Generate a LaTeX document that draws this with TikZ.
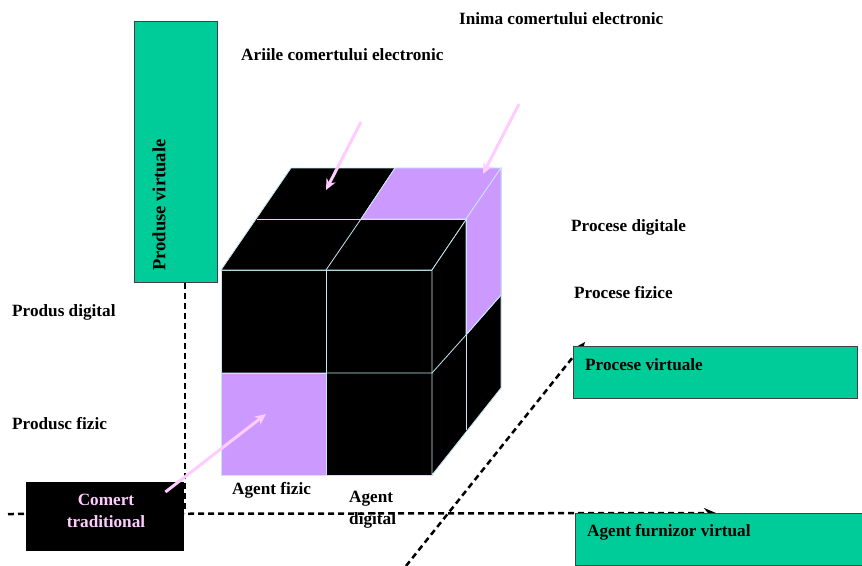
\documentclass[tikz,border=0pt]{standalone}
\usepackage{fontspec}
\setmainfont{Liberation Serif}
\usetikzlibrary{arrows.meta}
\definecolor{vgreen}{HTML}{00CC99}
\definecolor{cubelila}{HTML}{CC99FF}
\definecolor{edgeblue}{HTML}{C8E6F5}
\definecolor{pinkc}{HTML}{FFCCFF}
\begin{document}
\begin{tikzpicture}[x=1pt,y=-1pt,
  lblfont/.style={font=\bfseries\fontsize{17.2}{22}\selectfont},
  lbl/.style={lblfont, inner sep=0pt, anchor=west, text=black},
  greenbox/.style={fill=vgreen, draw=black!75, line width=1pt, inner sep=0pt},
  cubeface/.style={fill=black, draw=edgeblue, line width=0.8pt},
  lilaface/.style={fill=cubelila, draw=edgeblue, line width=0.8pt},
  cubeline/.style={draw=edgeblue, line width=0.8pt},
  pinkarrow/.style={draw=pinkc, line width=3pt, -{Stealth[length=11pt,width=10pt]}},
  dashline/.style={draw=black, line width=2.5pt, dash pattern=on 6pt off 4pt},
  dasharrow/.style={dashline, -{Stealth[length=12pt,width=10pt]}}
]
\useasboundingbox (0,0) rectangle (862,565);

% ---- dashed axes (drawn first, under boxes) ----
\coordinate (hstart) at (8,514);
\coordinate (htip) at (716,513);
\coordinate (dstart) at (406,566);
\coordinate (dtip) at (585,342);
\coordinate (vend) at (185,513);
\draw[dasharrow] (hstart) -- (htip);
\draw[dasharrow] (dstart) -- (dtip);

% ---- boxes ----
\node[greenbox, minimum width=83pt, minimum height=261pt, anchor=north west] (pv) at (134,21) {};
\node[font=\bfseries\fontsize{18.6}{22}\selectfont, rotate=90, anchor=west, inner sep=0pt] (pvt) at (159,271) {Produse virtuale};
\draw[dashline] (pv.south -| vend) -- (vend);

\node[greenbox, minimum width=284pt, minimum height=52pt, anchor=north west] (prv) at (573,346) {};
\node[lbl] (prvt) at (585,365) {Procese virtuale};

\node[greenbox, minimum width=290pt, minimum height=52pt, anchor=north west] (afv) at (575,513) {};
\node[lbl] (afvt) at (587,532) {Agent furnizor virtual};

\node[fill=black, minimum width=158pt, minimum height=69pt, anchor=north west, inner sep=0pt] (ct) at (26,482) {};
\node[lblfont, text=pinkc, align=center, inner sep=0pt] (ctt) at (106,511) {Comert\\traditional};

% ---- cube ----
% front face
\coordinate (F00) at (221,270); \coordinate (F10) at (326,270); \coordinate (F20) at (432,270);
\coordinate (F01) at (221,373); \coordinate (F11) at (326,373); \coordinate (F21) at (432,373);
\coordinate (F02) at (221,475); \coordinate (F12) at (326,475); \coordinate (F22) at (432,475);
% top face
\coordinate (T1L) at (257,219); \coordinate (T1M) at (361,219); \coordinate (T1R) at (466,219);
\coordinate (T2L) at (291,168); \coordinate (T2M) at (395,168); \coordinate (T2R) at (501,168);
% right face
\coordinate (R1M) at (466,335); \coordinate (R2M) at (501,295);
\coordinate (R1B) at (466,430); \coordinate (R2B) at (501,388);

\path[cubeface] (F00) -- (F20) -- (F22) -- (F02) -- cycle;
\path[cubeface] (F00) -- (T2L) -- (T2R) -- (F20) -- cycle;
\path[cubeface] (F20) -- (T2R) -- (R2B) -- (F22) -- cycle;
\path[lilaface] (F01) -- (F11) -- (F12) -- (F02) -- cycle;
\path[lilaface] (T1M) -- (T2M) -- (T2R) -- (T1R) -- cycle;
\path[lilaface] (T1R) -- (T2R) -- (R2M) -- (R1M) -- cycle;
% grid lines
\draw[cubeline] (F10) -- (F12);
\draw[cubeline] (F01) -- (F21) -- (R1M) -- (R2M);
\draw[cubeline] (T1L) -- (T1R);
\draw[cubeline] (F10) -- (T1M) -- (T2M);
\draw[cubeline] (T1R) -- (R1B);

% ---- pink arrows ----
\coordinate (a1s) at (361,122); \coordinate (a1e) at (326,190);
\coordinate (a2s) at (519,104); \coordinate (a2e) at (483,174);
\coordinate (a3e) at (266,414);
\draw[pinkarrow] (a1s) -- (a1e);
\draw[pinkarrow] (a2s) -- (a2e);
\draw[pinkarrow] (ct.north east) ++(-19,10) coordinate (a3s) -- (a3e);

% ---- labels ----
\node[lbl] (inima) at (459,19) {Inima comertului electronic};
\node[lbl] (arii) at (241,55) {Ariile comertului electronic};
\node[lbl] (pdig) at (571,227) {Procese digitale};
\node[lbl] (pfiz) at (574,293) {Procese fizice};
\node[lbl] (prdig) at (12,312) {Produs digital};
\node[lbl] (prfiz) at (12,424) {Produsc fizic};
\node[lbl] (afiz) at (232,490) {Agent fizic};
\node[lbl, align=left] (adig) at (349,510) {Agent\\digital};
\end{tikzpicture}
\end{document}
